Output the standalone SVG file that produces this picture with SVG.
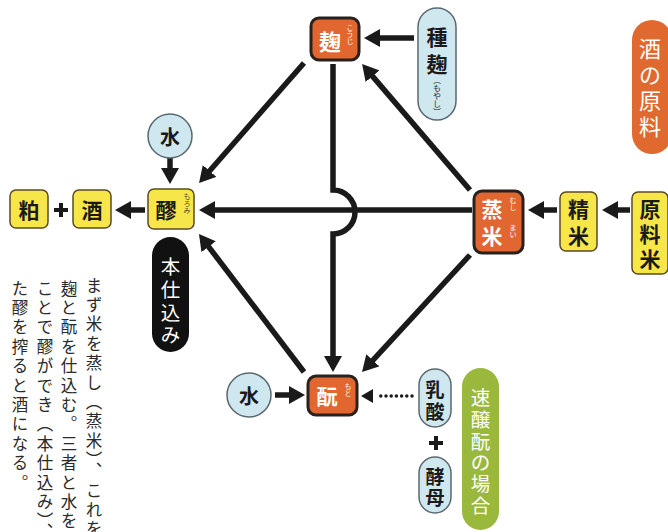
<svg xmlns="http://www.w3.org/2000/svg" width="668" height="532" viewBox="0 0 668 532">
<style>
.bg{fill:#ffffff}
.org{fill:#e2662f;stroke:#2b211c;stroke-width:3}
.yel{fill:#f6e64a;stroke:#5a4b25;stroke-width:1.5}
.blu{fill:#cfe7ef;stroke:#5a6870;stroke-width:1.5}
.lbl{font-family:"Noto Sans CJK JP","Noto Sans CJK SC",sans-serif;font-weight:700;font-size:21px;text-anchor:middle;dominant-baseline:central}
.w{fill:#ffffff}
.k{fill:#1a1a1a}
.ruby{font-family:"Noto Sans CJK JP",sans-serif;font-size:7px;writing-mode:vertical-rl}
.tall{font-family:"Noto Sans CJK JP",sans-serif;font-weight:400;font-size:22px;text-anchor:middle;dominant-baseline:central;fill:#ffffff}
.tall2{font-family:"Noto Sans CJK JP",sans-serif;font-weight:400;font-size:19.5px;text-anchor:middle;dominant-baseline:central;fill:#ffffff}
.body{font-family:"Noto Sans CJK JP",sans-serif;font-size:16.5px;writing-mode:vertical-rl;fill:#2a2a2a;letter-spacing:2.9px}
.ar{fill:none;stroke:#1a1a1a;stroke-width:5.5;marker-end:url(#ah)}
.plus{stroke:#1a1a1a;stroke-width:4}
</style>
<defs>
<marker id="ah" viewBox="0 0 16 18" markerWidth="16" markerHeight="18" refX="10" refY="9" orient="auto" markerUnits="userSpaceOnUse">
<path d="M0,0 L16,9 L0,18 z" fill="#1a1a1a"/>
</marker>
</defs>
<rect class="bg" width="668" height="532"/>

<g id="connectors">
<line class="ar" x1="414" y1="38" x2="370" y2="38"/>
<line class="ar" x1="472" y1="210" x2="205" y2="210"/>
<line class="ar" x1="145" y1="210" x2="121" y2="210"/>
<line class="ar" x1="557" y1="210" x2="534" y2="210"/>
<line class="ar" x1="630" y1="210" x2="608" y2="210"/>
<line class="ar" x1="170" y1="158" x2="170" y2="178"/>
<line class="ar" x1="304" y1="63" x2="203" y2="178.5"/>
<line class="ar" x1="470" y1="190" x2="366" y2="68.6"/>
<line class="ar" x1="470" y1="255" x2="366.1" y2="367.6"/>
<line class="ar" x1="304" y1="372" x2="202.6" y2="238.8"/>
<path class="ar" d="M333,64 V190 A22,22 0 0 1 333,234 V366"/>
<line class="ar" x1="275" y1="395" x2="299" y2="395"/>
<line x1="412" y1="396" x2="376" y2="396" stroke="#1a1a1a" stroke-width="3.5" stroke-linecap="round" stroke-dasharray="0 5.2"/>
<path d="M361,396 L373,389 L373,403 z" fill="#1a1a1a"/>
</g>

<g id="n-koji">
<rect class="org" x="311" y="18" width="48" height="42" rx="8"/>
<text class="lbl w" x="330" y="40" style="font-size:22px">麹</text>
<text class="ruby w" x="350" y="24">こうじ</text>
</g>

<g id="n-tanekoji">
<rect class="blu" x="418" y="8" width="38" height="112" rx="19"/>
<text class="lbl k" x="437" y="36">種</text>
<text class="lbl k" x="437" y="63">麹</text>
<text class="ruby k" x="437" y="76" style="font-size:8px">（もやし）</text>
</g>

<g id="n-genryo">
<rect x="632" y="20" width="40" height="134" rx="20" fill="#e0692f"/>
<text class="tall" x="650" y="47">酒</text>
<text class="tall" x="650" y="73">の</text>
<text class="tall" x="650" y="99">原</text>
<text class="tall" x="650" y="125">料</text>
</g>

<g id="n-water1">
<circle class="blu" cx="170" cy="136" r="22"/>
<text class="lbl k" x="170" y="136" style="font-size:20px">水</text>
</g>

<g id="n-kasu">
<rect class="yel" x="10" y="190" width="38" height="38" rx="6"/>
<text class="lbl k" x="29" y="209">粕</text>
</g>
<g id="plus1">
<line class="plus" x1="54" y1="210" x2="68" y2="210"/>
<line class="plus" x1="61" y1="203" x2="61" y2="217"/>
</g>
<g id="n-sake">
<rect class="yel" x="73" y="190" width="38" height="38" rx="6"/>
<text class="lbl k" x="92" y="209">酒</text>
</g>

<g id="n-moromi">
<rect class="yel" x="148" y="189" width="46" height="40" rx="6"/>
<text class="lbl k" x="166" y="209">醪</text>
<text class="ruby" x="187" y="193" fill="#5a4b25">もろみ</text>
</g>

<g id="n-honjikomi">
<rect x="152" y="237" width="37" height="115" rx="18.5" fill="#111111"/>
<text class="tall2" x="170.5" y="265">本</text>
<text class="tall2" x="170.5" y="288">仕</text>
<text class="tall2" x="170.5" y="311">込</text>
<text class="tall2" x="170.5" y="333">み</text>
</g>

<g id="n-mushimai">
<rect class="org" x="474" y="191" width="49" height="62" rx="8"/>
<text class="lbl w" x="492" y="208">蒸</text>
<text class="lbl w" x="492" y="235">米</text>
<text class="ruby w" x="513" y="197">むし</text>
<text class="ruby w" x="513" y="224">まい</text>
</g>

<g id="n-seimai">
<rect class="yel" x="560" y="192" width="37" height="59" rx="6"/>
<text class="lbl k" x="578.5" y="208">精</text>
<text class="lbl k" x="578.5" y="235">米</text>
</g>

<g id="n-genryomai">
<rect class="yel" x="632" y="192" width="36" height="82" rx="6"/>
<text class="lbl k" x="650" y="208">原</text>
<text class="lbl k" x="650" y="233">料</text>
<text class="lbl k" x="650" y="258">米</text>
</g>

<g id="n-water2">
<circle class="blu" cx="249" cy="395" r="22"/>
<text class="lbl k" x="249" y="395" style="font-size:20px">水</text>
</g>

<g id="n-moto">
<rect class="org" x="308" y="376" width="49" height="39" rx="8"/>
<text class="lbl w" x="327" y="395">酛</text>
<text class="ruby w" x="348" y="383">もと</text>
</g>

<g id="n-nyusan">
<rect class="blu" x="419" y="369" width="32" height="58" rx="16"/>
<text class="lbl k" x="435" y="388" style="font-size:19px">乳</text>
<text class="lbl k" x="435" y="410" style="font-size:19px">酸</text>
</g>
<g id="plus2">
<line class="plus" x1="429" y1="443" x2="443" y2="443"/>
<line class="plus" x1="436" y1="436" x2="436" y2="450"/>
</g>
<g id="n-kobo">
<rect class="blu" x="419" y="457" width="32" height="56" rx="16"/>
<text class="lbl k" x="435" y="475" style="font-size:19px">酵</text>
<text class="lbl k" x="435" y="496" style="font-size:19px">母</text>
</g>

<g id="n-sokujo">
<rect x="462" y="368" width="37" height="162" rx="18.5" fill="#9ab83c"/>
<text class="tall2" x="480.5" y="396">速</text>
<text class="tall2" x="480.5" y="418">醸</text>
<text class="tall2" x="480.5" y="440">酛</text>
<text class="tall2" x="480.5" y="461">の</text>
<text class="tall2" x="480.5" y="482">場</text>
<text class="tall2" x="480.5" y="504">合</text>
</g>

<g id="body-text">
<text class="body" x="94" y="277">まず米を蒸し（蒸米）、これを</text>
<text class="body" x="69" y="280">麹と酛を仕込む。三者と水を</text>
<text class="body" x="45" y="280">ことで醪ができ（本仕込み）、</text>
<text class="body" x="20" y="280">た醪を搾ると酒になる。</text>
</g>
</svg>
